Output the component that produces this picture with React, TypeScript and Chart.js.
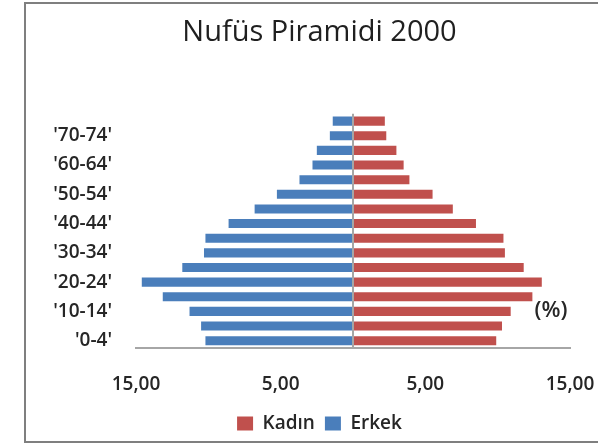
import React, { useEffect, useRef } from "react";
import { Chart, registerables } from "chart.js";

Chart.register(...registerables);

const ageGroups = [
  "'0-4'", "'5-9'", "'10-14'", "'15-19'", "'20-24'", "'25-29'", "'30-34'", "'35-39'",
  "'40-44'", "'45-49'", "'50-54'", "'55-59'", "'60-64'", "'65-69'", "'70-74'", "'75+'",
];
const kadin = [9.9, 10.3, 10.9, 12.4, 13.05, 11.8, 10.5, 10.4, 8.5, 6.9, 5.5, 3.9, 3.5, 3.0, 2.3, 2.2];
const erkek = [-10.2, -10.5, -11.3, -13.15, -14.6, -11.8, -10.3, -10.2, -8.6, -6.8, -5.26, -3.7, -2.8, -2.5, -1.6, -1.4];
const xTickValues = [-15, -5, 5, 15];
const titleText = "Nufüs Piramidi 2000";
const unitText = "(%)";

const FONT = "'Open Sans', 'Noto Sans', sans-serif";

export default function App() {
  const ref = useRef<HTMLCanvasElement | null>(null);

  useEffect(() => {
    if (!ref.current) return;
    const unitPlugin = {
      id: "unitLabel",
      afterDraw(chart: any) {
        const { ctx, chartArea } = chart;
        const y = chart.scales.y.getPixelForValue(2);
        ctx.save();
        ctx.font = `600 22px ${FONT}`;
        ctx.fillStyle = "#262626";
        ctx.textAlign = "center";
        ctx.textBaseline = "middle";
        ctx.fillText(unitText, chartArea.right - 19, y - 1);
        ctx.restore();
      },
    };
    const chart = new Chart(ref.current, {
      type: "bar",
      data: {
        labels: ageGroups,
        datasets: [
          { label: "Kadın", data: kadin, backgroundColor: "#c0504d", barPercentage: 0.62, categoryPercentage: 1 },
          { label: "Erkek", data: erkek, backgroundColor: "#4a7ebb", barPercentage: 0.62, categoryPercentage: 1 },
        ],
      },
      options: {
        indexAxis: "y",
        responsive: false,
        animation: false,
        devicePixelRatio: 1,
        layout: { padding: { left: 25, top: 3, right: 0, bottom: 0 } },
        plugins: {
          title: {
            display: true,
            text: titleText,
            color: "#1f1f1f",
            font: { family: FONT, size: 29, weight: "500" },
            padding: { top: 12, bottom: 64 },
          },
          legend: {
            position: "bottom",
            labels: {
              color: "#262626",
              font: { family: FONT, size: 19, weight: "600" },
              boxWidth: 16,
              boxHeight: 14,
              padding: 10,
            },
          },
          tooltip: { enabled: false },
        },
        scales: {
          x: {
            stacked: true,
            min: -15,
            max: 15,
            afterBuildTicks: (s: any) => {
              s.ticks = [-15, -10, -5, 0, 5, 10, 15].map((v) => ({ value: v }));
            },
            afterFit: (s: any) => {
              s.height = 56;
              s.paddingLeft = 0;
              s.paddingRight = 0;
            },
            ticks: {
              autoSkip: false,
              maxRotation: 0,
              padding: 25,
              color: "#262626",
              font: { family: FONT, size: 19, weight: "600" },
              callback: (v: any) =>
                xTickValues.includes(Number(v)) ? Math.abs(Number(v)).toFixed(2).replace(".", ",") : "",
            },
            grid: {
              drawTicks: false,
              color: (c: any) => (c.tick && c.tick.value === 0 ? "#a6a6a6" : "rgba(0,0,0,0)"),
              lineWidth: 2,
            },
            border: { display: true, color: "#a6a6a6", width: 2 },
          },
          y: {
            stacked: true,
            reverse: true,
            afterFit: (s: any) => {
              s.width = 111;
            },
            ticks: {
              autoSkip: false,
              padding: 24,
              color: "#262626",
              font: { family: FONT, size: 19, weight: "600" },
              callback: function (this: any, v: any, i: number) {
                return i % 2 === 0 ? ageGroups[i] : "";
              },
            },
            grid: { display: false, drawTicks: false },
            border: { display: false },
          },
          yRight: {
            type: "category",
            position: "right",
            labels: ageGroups,
            afterFit: (s: any) => {
              s.width = 44;
            },
            ticks: { display: false },
            grid: { display: false, drawTicks: false },
            border: { display: false },
          },
        },
      },
      plugins: [unitPlugin],
    } as any);
    return () => chart.destroy();
  }, []);

  return (
    <div style={{ position: "fixed", left: 0, top: 0, width: 598, height: 443, overflow: "hidden", background: "#fff" }}>
      <canvas ref={ref} width={614} height={443} style={{ position: "absolute", left: 0, top: 0, width: 614, height: 443 }} />
      <div
        style={{
          position: "absolute",
          left: 24,
          top: 2,
          width: 700,
          height: 437,
          border: "2px solid #7f7f7f",
          pointerEvents: "none",
        }}
      />
    </div>
  );
}
